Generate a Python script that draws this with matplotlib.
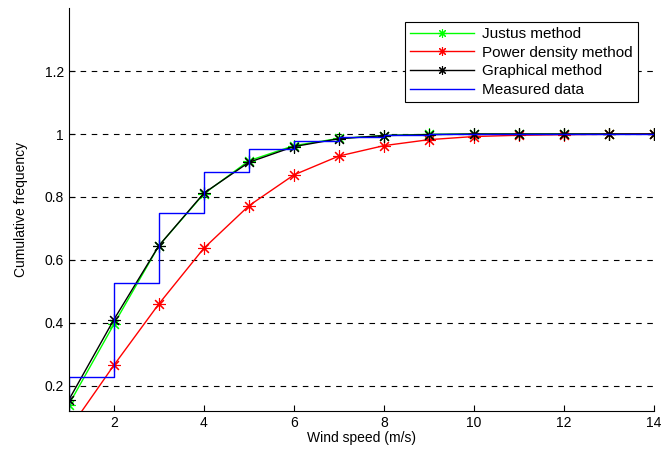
import numpy as np
import matplotlib
matplotlib.use("Agg")
import matplotlib.pyplot as plt

plt.rcParams['font.family'] = ['Liberation Sans', 'DejaVu Sans']

# wind speed bins (m/s)
speed = [1, 2, 3, 4, 5, 6, 7, 8, 9, 10, 11, 12, 13, 14]

justus = [0.14, 0.395, 0.645, 0.81, 0.915, 0.963, 0.986, 0.995, 0.999, 1.0, 1.0, 1.0, 1.0, 1.0]
power_density = [0.06, 0.265, 0.46, 0.637, 0.772, 0.87, 0.93, 0.963, 0.982, 0.992, 0.996, 0.998, 0.999, 1.0]
graphical = [0.155, 0.41, 0.645, 0.812, 0.91, 0.96, 0.985, 0.995, 0.998, 1.0, 1.0, 1.0, 1.0, 1.0]
measured = [0.227, 0.525, 0.75, 0.88, 0.952, 0.979, 0.991, 0.997, 1.0, 1.0, 1.0, 1.0, 1.0, 1.0]

# MATLAB-like asterisk marker
star = (8, 2, 0)

fig = plt.figure(figsize=(6.62, 4.53), dpi=100)
ax = fig.add_axes([0.104, 0.093, 0.884, 0.889])

ax.plot(speed, justus, color='#00ff00', marker=star, markersize=9, markeredgewidth=0.8, linewidth=1, label='Justus method')
ax.plot(speed, power_density, color='red', marker=star, markersize=9, markeredgewidth=0.8, linewidth=1, label='Power density method')
ax.plot(speed, graphical, color='black', marker=star, markersize=9, markeredgewidth=0.8, linewidth=1, label='Graphical method')
ax.step(speed, measured, where='post', color='blue', linewidth=1, label='Measured data')
# vertical start of the measured step curve
ax.plot([speed[0], speed[0]], [0, measured[0]], color='blue', linewidth=1)

ax.set_xlim(1, 14)
ax.set_ylim(0.12, 1.4)
ax.set_xticks([2, 4, 6, 8, 10, 12, 14])
ax.set_yticks([0.2, 0.4, 0.6, 0.8, 1.0, 1.2])
ax.set_yticklabels(['0.2', '0.4', '0.6', '0.8', '1', '1.2'])
ax.tick_params(direction='in', labelsize=10, length=4)
ax.yaxis.grid(True, color='black', linestyle=(0, (5, 5)), linewidth=0.8)
ax.set_axisbelow(True)

ax.spines['top'].set_visible(False)
ax.spines['right'].set_visible(False)

ax.set_xlabel('Wind speed (m/s)', fontsize=10, labelpad=1)
ax.set_ylabel('Cumulative frequency', fontsize=10, labelpad=12)

leg = ax.legend(loc='upper right', bbox_to_anchor=(0.985, 0.985), fontsize=11, fancybox=False,
                framealpha=1, edgecolor='black', borderpad=0.35, labelspacing=0.3,
                handlelength=4.2, handletextpad=0.5, markerscale=0.7)
leg.get_frame().set_linewidth(0.8)

plt.savefig('out.png', dpi=100)
